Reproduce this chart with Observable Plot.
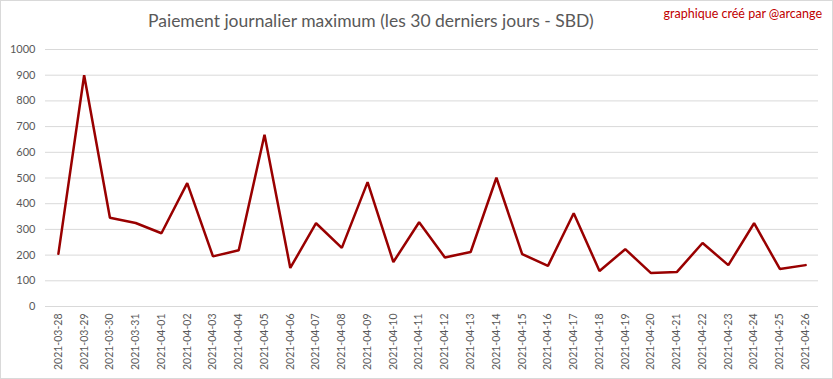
<!DOCTYPE html>
<html>
<head>
<meta charset="utf-8">
<script src="https://cdn.jsdelivr.net/npm/d3@7"></script>
<script src="https://cdn.jsdelivr.net/npm/@observablehq/plot@0.6"></script>
<style>
  html, body { margin: 0; padding: 0; background: #fff; }
  #wrap { position: relative; width: 833px; height: 379px; overflow: hidden; background: #fff; }
  #frame { position: absolute; left: 0; top: 0; width: 833px; height: 379px; box-sizing: border-box; border: 1px solid #d9d9d9; pointer-events: none; }
  #head { position: relative; height: 36px; }
  #title { position: absolute; left: 148px; top: 10px; font-family: Lato, sans-serif; font-size: 17.5px; color: #595959; white-space: nowrap; }
  #credit { position: absolute; right: 11px; top: 6px; font-family: Lato, sans-serif; font-size: 12.5px; color: #c00000; white-space: nowrap; }
  svg { display: block; }
</style>
</head>
<body>
<div id="wrap">
  <div id="head">
    <div id="title">Paiement journalier maximum (les 30 derniers jours - SBD)</div>
    <div id="credit">graphique créé par @arcange</div>
  </div>
  <div id="chart"></div>
  <div id="frame"></div>
</div>
<script>
const dates = [
  "2021-03-28","2021-03-29","2021-03-30","2021-03-31","2021-04-01","2021-04-02",
  "2021-04-03","2021-04-04","2021-04-05","2021-04-06","2021-04-07","2021-04-08",
  "2021-04-09","2021-04-10","2021-04-11","2021-04-12","2021-04-13","2021-04-14",
  "2021-04-15","2021-04-16","2021-04-17","2021-04-18","2021-04-19","2021-04-20",
  "2021-04-21","2021-04-22","2021-04-23","2021-04-24","2021-04-25","2021-04-26"
];
const payouts = [
  205, 900, 345, 325, 285, 480,
  195, 219, 668, 150, 324, 228,
  484, 173, 328, 191, 212, 501,
  204, 158, 363, 138, 223, 130,
  134, 247, 161, 324, 146, 161
];
const yTicks = [0,100,200,300,400,500,600,700,800,900,1000];

const data = dates.map((d, i) => ({date: d, value: payouts[i]}));

const chart = Plot.plot({
  width: 833,
  height: 343,
  marginTop: 13,
  marginBottom: 73,
  marginLeft: 45,
  marginRight: 15,
  style: { fontFamily: "Lato, sans-serif", fontSize: "11px", color: "#595959", background: "#fff" },
  x: { type: "point", domain: dates, padding: 0.5, round: false },
  y: { domain: [0, 1000] },
  marks: [
    Plot.ruleY(yTicks, { stroke: "#d9d9d9", strokeWidth: 1 }),
    Plot.axisY(yTicks, { tickSize: 0, tickPadding: 10, label: null, fill: "#595959", fontSize: 11, tickFormat: d => String(d) }),
    Plot.axisX(dates, { tickSize: 0, tickPadding: 7, tickRotate: -90, label: null, fill: "#595959", fontSize: 10.5 }),
    Plot.line(data, { x: "date", y: "value", stroke: "#990000", strokeWidth: 2.5, strokeLinejoin: "miter" })
  ]
});
document.getElementById("chart").appendChild(chart);
</script>
</body>
</html>
